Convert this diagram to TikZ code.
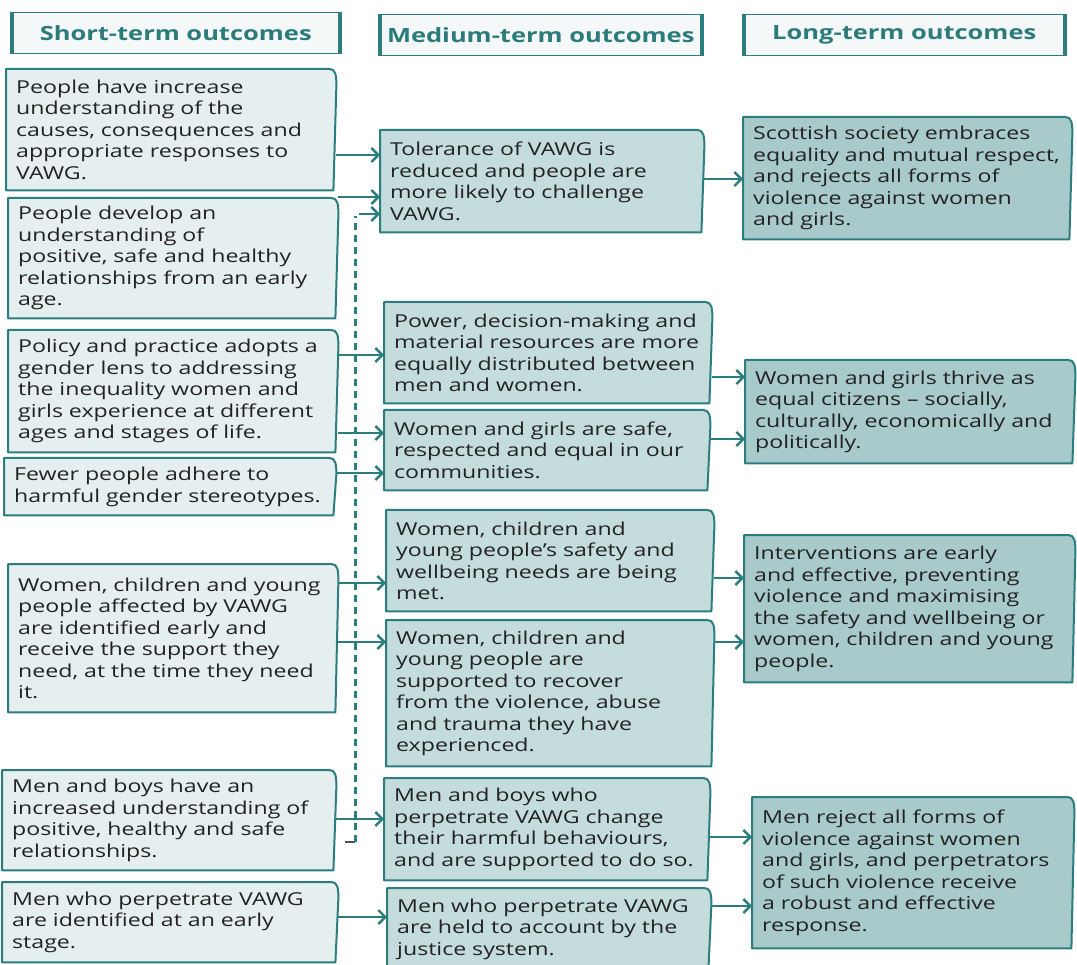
\documentclass[tikz,border=0pt]{standalone}
\usepackage{fontspec}
\setmainfont{Open Sans}[FakeStretch=1.3]
\usetikzlibrary{arrows.meta}
\pgfdeclarelayer{background}
\pgfsetlayers{background,main}

\definecolor{tealline}{HTML}{2C7D7D}
\definecolor{shortfill}{HTML}{E6EFEF}
\definecolor{medfill}{HTML}{C5DCDC}
\definecolor{longfill}{HTML}{A8CACA}
\definecolor{headfill}{HTML}{F4F8F8}
\definecolor{bodytext}{HTML}{222222}
\definecolor{headtext}{HTML}{2C7B7B}
\definecolor{tickgrey}{HTML}{505050}

\tikzset{
  outcome/.style={anchor=north west, inner xsep=10pt, inner ysep=3pt,
    align=left, text=bodytext, font=\fontsize{17.8}{21.5}\selectfont},
  header/.style={anchor=north west, fill=headfill, draw=tealline,
    line width=1.5pt, text=headtext,
    font=\bfseries\fontsize{19.6}{24}\selectfont},
  headside/.style={draw=tealline, line width=4pt},
  arr/.style={draw=tealline, line width=2.4pt,
    -{Straight Barb[length=7pt,width=14pt]}},
  dashlink/.style={draw=tealline, line width=3pt,
    dash pattern=on 7pt off 5pt},
}

% outline of an outcome box with its slightly curled top-right corner
\newcommand\rim[2]{%
  \begin{pgfonlayer}{background}
    \filldraw[fill=#2, draw=tealline, line width=2pt, line join=round]
      (#1.south west) -- (#1.north west) -- ([xshift=-7pt]#1.north east)
      .. controls ([xshift=-1pt]#1.north east) and ([yshift=-6pt]#1.north east)
      .. ([yshift=-16pt]#1.north east)
      -- ([xshift=-3pt]#1.south east) -- cycle;
  \end{pgfonlayer}}

\begin{document}
\begin{tikzpicture}[x=1pt, y=-1pt]
\useasboundingbox (0,0) rectangle (1077,965);

% column headers
\node[header, minimum width=326pt, minimum height=41pt] (h1) at (12,12) {Short-term outcomes};
\node[header, minimum width=320pt, minimum height=41pt] (h2) at (380,14) {Medium-term outcomes};
\node[header, minimum width=319pt, minimum height=41pt] (h3) at (744,14) {Long-term outcomes};
\foreach \h in {h1,h2,h3}{
  \draw[headside] (\h.north west) -- (\h.south west);
  \draw[headside] (\h.north east) -- (\h.south east);
}

% short-term outcomes
\node[outcome, text width=310pt, minimum height=121pt] (s1) at (6,69)
  {People have increase\\understanding of the\\causes, consequences and\\appropriate responses to\\VAWG.};
\node[outcome, text width=310pt, minimum height=120pt] (s2) at (8,198)
  {People develop an\\understanding of\\positive, safe and healthy\\relationships from an early\\age.};
\node[outcome, text width=310pt, minimum height=122pt] (s3) at (8,330)
  {Policy and practice adopts a\\gender lens to addressing\\the inequality women and\\girls experience at different\\ages and stages of life.};
\node[outcome, text width=312pt, minimum height=57pt] (s4) at (4,458)
  {Fewer people adhere to\\harmful gender stereotypes.};
\node[outcome, text width=310pt, minimum height=148pt] (s5) at (8,564)
  {Women, children and young\\people affected by VAWG\\are identified early and\\receive the support they\\need, at the time they need\\it.};
\node[outcome, text width=314pt, minimum height=100pt] (s6) at (2,770)
  {Men and boys have an\\increased understanding of\\positive, healthy and safe\\relationships.};
\node[outcome, text width=316pt, minimum height=80pt] (s7) at (2,882)
  {Men who perpetrate VAWG\\are identified at an early\\stage.};

% medium-term outcomes
\node[outcome, text width=304pt, minimum height=102pt] (m1) at (380,130)
  {Tolerance of VAWG is\\reduced and people are\\more likely to challenge\\VAWG.};
\node[outcome, text width=308pt, minimum height=101pt] (m2) at (384,302)
  {Power, decision-making and\\material resources are more\\equally distributed between\\men and women.};
\node[outcome, text width=306pt, minimum height=80pt] (m3) at (384,410)
  {Women and girls are safe,\\respected and equal in our\\communities.};
\node[outcome, text width=308pt, minimum height=101pt] (m4) at (386,510)
  {Women, children and\\young people’s safety and\\wellbeing needs are being\\met.};
\node[outcome, text width=308pt, minimum height=146pt] (m5) at (386,620)
  {Women, children and\\young people are\\supported to recover\\from the violence, abuse\\and trauma they have\\experienced.};
\node[outcome, text width=306pt, minimum height=102pt] (m6) at (384,778)
  {Men and boys who\\perpetrate VAWG change\\their harmful behaviours,\\and are supported to do so.};
\node[outcome, text width=304pt, minimum height=82pt] (m7) at (387,888)
  {Men who perpetrate VAWG\\are held to account by the\\justice system.};

% long-term outcomes
\node[outcome, text width=309pt, minimum height=122pt] (l1) at (743,117)
  {Scottish society embraces\\equality and mutual respect,\\and rejects all forms of\\violence against women\\and girls.};
\node[outcome, text width=310pt, minimum height=103pt] (l2) at (745,360)
  {Women and girls thrive as\\equal citizens – socially,\\culturally, economically and\\politically.};
\node[outcome, text width=311pt, minimum height=147pt] (l3) at (744,535)
  {Interventions are early\\and effective, preventing\\violence and maximising\\the safety and wellbeing or\\women, children and young\\people.};
\node[outcome, text width=302pt, minimum height=151pt] (l4) at (752,797)
  {Men reject all forms of\\violence against women\\and girls, and perpetrators\\of such violence receive\\a robust and effective\\response.};

\foreach \n in {s1,s2,s3,s4,s5,s6,s7}{\rim{\n}{shortfill}}
\foreach \n in {m1,m2,m3,m4,m5,m6,m7}{\rim{\n}{medfill}}
\foreach \n in {l1,l2,l3,l4}{\rim{\n}{longfill}}

% short-term to medium-term links
\draw[arr] (s1.east |- 0,155) -- (m1.west |- 0,155);
\draw[arr] (s2.east |- 0,197) -- (m1.west |- 0,197);
\draw[arr] (s3.east |- 0,355) -- (m2.west |- 0,355);
\draw[arr] (s3.east |- 0,433) -- (m3.west |- 0,433);
\draw[arr] (s4.east |- 0,473) -- (m3.west |- 0,473);
\draw[arr] (s5.east |- 0,583) -- (m4.west |- 0,583);
\draw[arr] (s5.east |- 0,642) -- (m5.west |- 0,642);
\draw[arr] (s6.east |- 0,819) -- (m6.west |- 0,819);
\draw[arr] (s7.east |- 0,917) -- (m7.west |- 0,917);

% dashed feedback link from men and boys' understanding up to tolerance
\coordinate (dfoot) at (345,842);
\coordinate (dcorner) at (355,842);
\coordinate (dtop) at (355,216);
\coordinate (dtail) at (359,214);
\draw[tickgrey, line width=2.4pt] (dfoot) -- (dcorner);
\draw[dashlink] (dcorner) -- (dtop);
\draw[arr] (dtail) -- (m1.west |- dtail);

% medium-term to long-term links
\draw[arr] (m1.east |- 0,179) -- (l1.west |- 0,179);
\draw[arr] (m2.east |- 0,377) -- (l2.west |- 0,377);
\draw[arr] (m3.east |- 0,439) -- (l2.west |- 0,439);
\draw[arr] (m4.east |- 0,578) -- (l3.west |- 0,578);
\draw[arr] (m5.east |- 0,642) -- (l3.west |- 0,642);
\draw[arr] (m6.east |- 0,837) -- (l4.west |- 0,837);
\draw[arr] (m7.east |- 0,906) -- (l4.west |- 0,906);
\end{tikzpicture}
\end{document}
